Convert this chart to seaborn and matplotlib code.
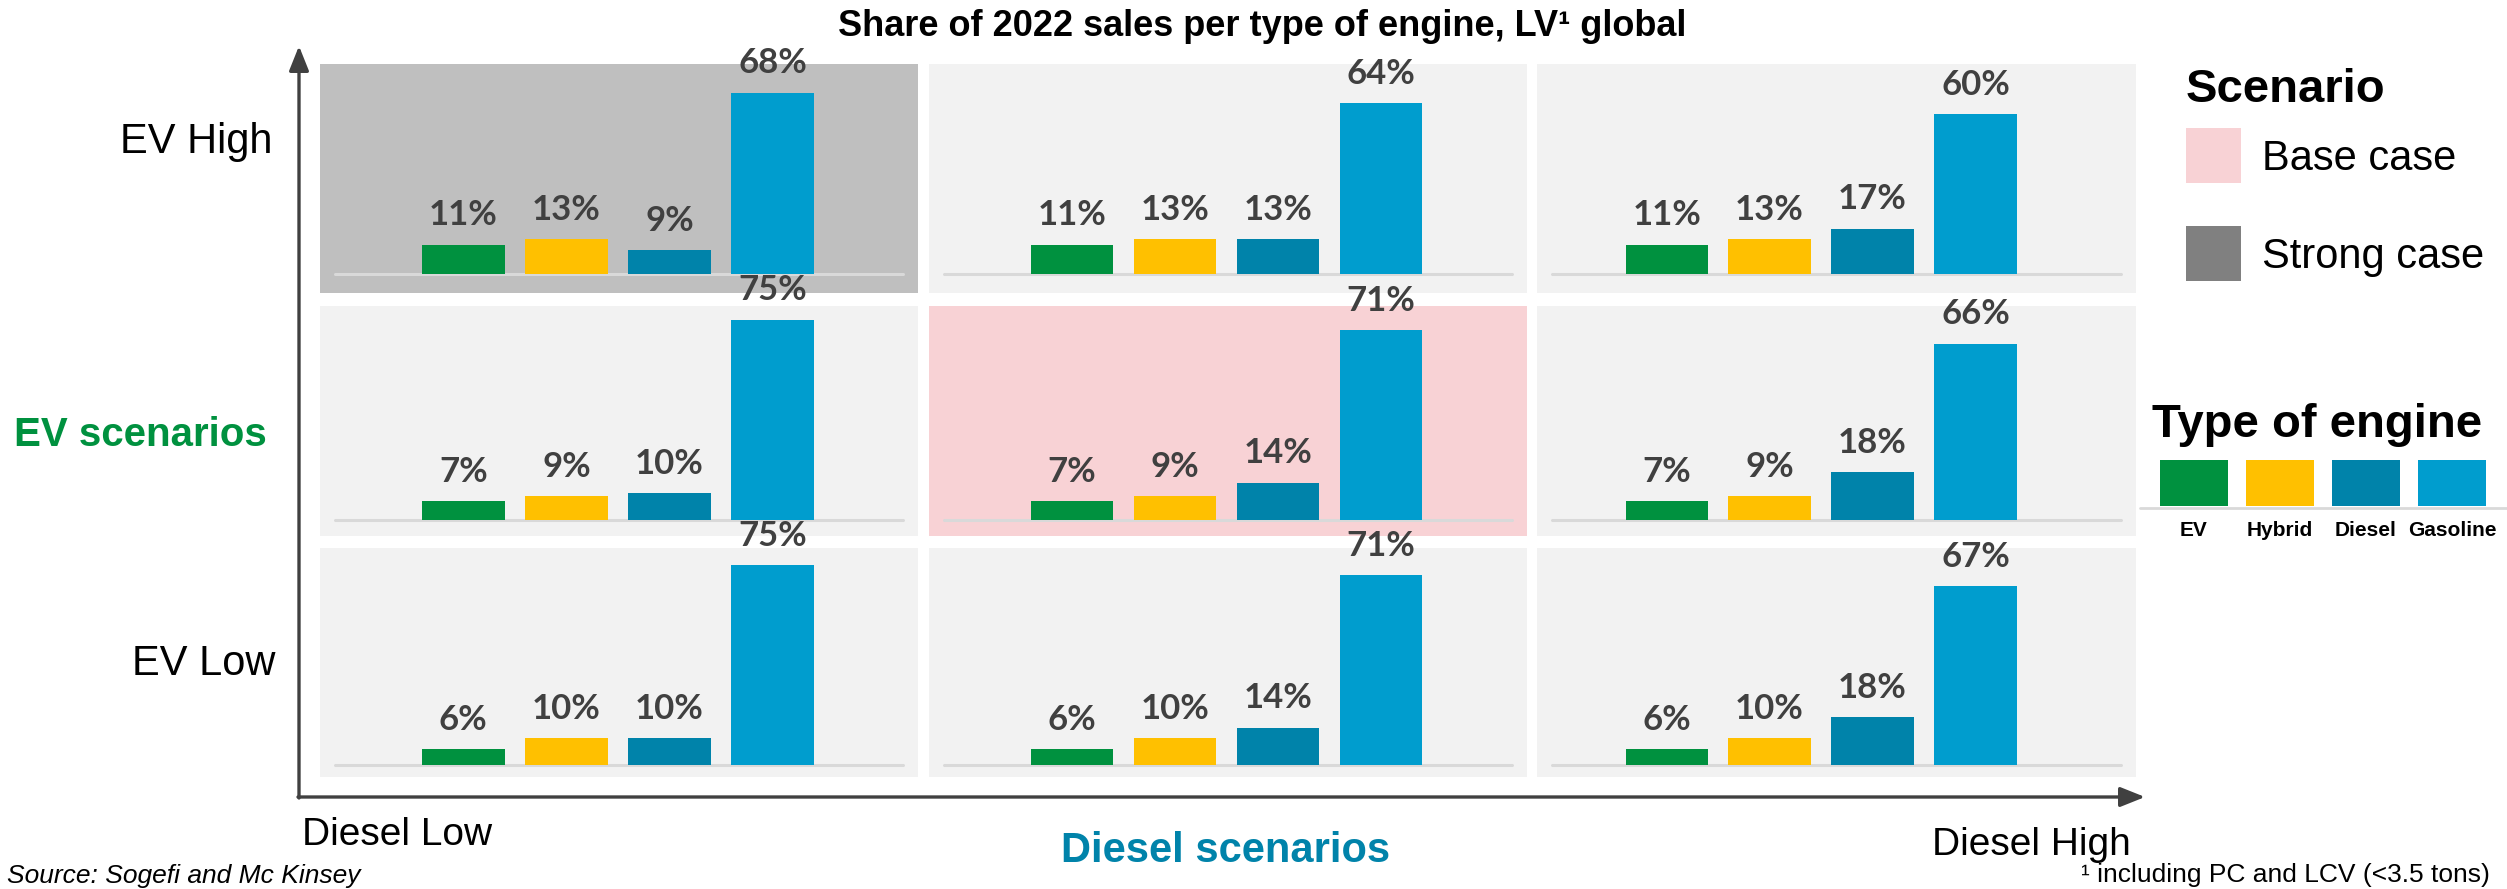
import matplotlib
matplotlib.use("Agg")
import matplotlib.pyplot as plt
from matplotlib.patches import Rectangle
import seaborn as sns

# share of 2022 sales (%) per engine, one list per diesel scenario
engines = ["EV", "Hybrid", "Diesel", "Gasoline"]
ev_rows = ["EV High", "EV scenarios", "EV Low"]
diesel_cols = ["Diesel Low", "Diesel scenarios", "Diesel High"]

ev_high = [[11, 13, 9, 68], [11, 13, 13, 64], [11, 13, 17, 60]]
ev_mid = [[7, 9, 10, 75], [7, 9, 14, 71], [7, 9, 18, 66]]
ev_low = [[6, 10, 10, 75], [6, 10, 14, 71], [6, 10, 18, 67]]
shares = [ev_high, ev_mid, ev_low]

scenario_names = ["Base case", "Strong case"]

engine_colors = {"EV": "#00913F", "Hybrid": "#FFC000",
                 "Diesel": "#0083AA", "Gasoline": "#009DCE"}
scenario_colors = {"Base case": "#F8D2D5", "Strong case": "#808080"}
panel_bg = "#F2F2F2"
label_col = "#404040"

sns.set_style("white")
plt.rcParams["font.family"] = ["Liberation Sans", "DejaVu Sans"]
plt.rcParams["text.color"] = "black"

W, H = 2507, 889
fig = plt.figure(figsize=(W / 100, H / 100), dpi=100)

# overlay in pixel coordinates for texts, arrows and legend
ov = fig.add_axes([0, 0, 1, 1])
ov.set_xlim(0, W)
ov.set_ylim(H, 0)
ov.set_axis_off()


def px_axes(x0, y0, x1, y1):
    return fig.add_axes([x0 / W, 1 - y1 / H, (x1 - x0) / W, (y1 - y0) / H])


col_px = [(320, 918), (929, 1527), (1537, 2136)]
row_px = [(64, 293), (306, 536), (548, 777)]
col_xlim = [(-1.39, 4.41), (-1.39, 4.42), (-1.26, 4.56)]
row_ylim = [(-7.1, 78.7), (-6.0, 80.1), (-4.5, 81.3)]

for r in range(3):
    for c in range(3):
        ax = px_axes(col_px[c][0], row_px[r][0], col_px[c][1], row_px[r][1])
        vals = shares[r][c]
        sns.barplot(x=engines, y=vals, hue=engines, palette=engine_colors,
                    width=0.8, saturation=1, legend=False, ax=ax, zorder=2,
                    linewidth=0, edgecolor="none")
        ax.axhline(0, xmin=0.025, xmax=0.975, color="#D9D9D9", lw=2.2, zorder=1)
        for cont, v in zip(ax.containers, vals):
            ax.bar_label(cont, labels=[f"{v}%"], padding=9.5, fontsize=25,
                         fontweight="bold", color=label_col, family="Lato")
        ax.set_xlim(*col_xlim[c])
        ax.set_ylim(*row_ylim[r])
        if r == 0 and c == 0:
            ax.set_facecolor("#BFBFBF")
        elif r == 1 and c == 1:
            ax.set_facecolor(scenario_colors["Base case"])
        else:
            ax.set_facecolor(panel_bg)
        ax.set_xticks([])
        ax.set_yticks([])
        ax.set_xlabel("")
        ax.set_ylabel("")
        sns.despine(ax=ax, left=True, bottom=True)

# title
ov.text(1262, 36, "Share of 2022 sales per type of engine, LV¹ global",
        ha="center", va="baseline", fontsize=26, fontweight="bold")

# axes arrows
arrow = dict(arrowstyle="-|>,head_length=1.0,head_width=0.4", color=label_col,
             lw=2.4, shrinkA=0, shrinkB=0, mutation_scale=15)
ov.annotate("", xy=(299, 46), xytext=(299, 798), arrowprops=arrow)
ov.annotate("", xy=(2145, 797), xytext=(298, 797), arrowprops=arrow)

# EV scenario labels
ov.text(273, 153, ev_rows[0], ha="right", va="baseline", fontsize=30)
ov.text(267, 446, ev_rows[1], ha="right", va="baseline", fontsize=29,
        fontweight="bold", color="#00913F")
ov.text(275, 675, ev_rows[2], ha="right", va="baseline", fontsize=30)

# diesel scenario labels
ov.text(302, 845, diesel_cols[0], ha="left", va="baseline", fontsize=28)
ov.text(1226, 862, diesel_cols[1], ha="center", va="baseline", fontsize=30,
        fontweight="bold", color="#0083AA")
ov.text(2131, 855, diesel_cols[2], ha="right", va="baseline", fontsize=28)

ov.text(7, 883, "Source: Sogefi and Mc Kinsey", ha="left", va="baseline",
        fontsize=19, style="italic")
ov.text(2490, 882, "¹ including PC and LCV (<3.5 tons)", ha="right",
        va="baseline", fontsize=19)

# scenario legend
ov.text(2186, 102, "Scenario", ha="left", va="baseline", fontsize=34,
        fontweight="bold")
for name, (ytop, ybase) in zip(scenario_names, [(128, 170), (226, 268)]):
    ov.add_patch(Rectangle((2186, ytop), 55, 55,
                           color=scenario_colors[name], lw=0))
    ov.text(2262, ybase, name, ha="left", va="baseline", fontsize=30)

# engine legend
ov.text(2152, 437, "Type of engine", ha="left", va="baseline", fontsize=34,
        fontweight="bold")
for i, eng in enumerate(engines):
    cx = 2194 + i * 86
    ov.add_patch(Rectangle((cx - 34, 460), 68, 46, color=engine_colors[eng], lw=0))
    ov.text(cx, 530, eng, ha="center", va="center", fontsize=15,
            fontweight="bold")
ov.plot([2140, 2507], [507.5, 507.5], color="#D9D9D9", lw=2)

fig.savefig("out.png", dpi=100)
